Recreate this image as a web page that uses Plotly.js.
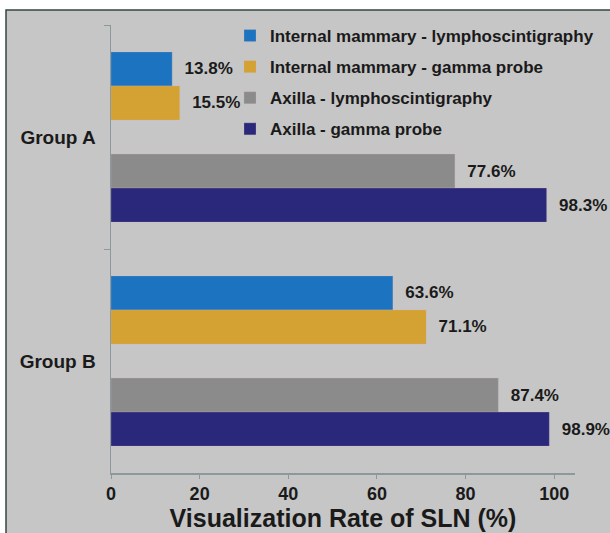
<!DOCTYPE html>
<html>
<head>
<meta charset="utf-8">
<script src="https://cdn.plot.ly/plotly-3.0.1.min.js"></script>
<style>html,body{margin:0;padding:0;background:#fff;}</style>
</head>
<body>
<div id="chart" style="width:610px;height:533px;"></div>
<script>
const groups = ['Group A', 'Group B'];
const seriesNames = [
  'Internal mammary - lymphoscintigraphy',
  'Internal mammary - gamma probe',
  'Axilla - lymphoscintigraphy',
  'Axilla - gamma probe'
];
const imLympho = [13.8, 63.6];
const imGamma = [15.5, 71.1];
const axLympho = [77.6, 87.4];
const axGamma = [98.3, 98.9];
const colors = ['#1C74C0', '#D3A232', '#8B8B8B', '#29287A'];
const xTicks = [0, 20, 40, 60, 80, 100];

const FONT = 'Liberation Sans, Arial, sans-serif';
const TXT = '#1a1a1a';

function barTrace(name, vals, color, group) {
  return {
    type: 'bar', orientation: 'h', name: name,
    y: groups, x: vals,
    marker: {color: color, line: {color: 'rgba(220,180,190,0.5)', width: 0.5}},
    text: vals.map(v => '\u00a0\u00a0' + v.toFixed(1) + '%'),
    textposition: 'outside', cliponaxis: false,
    textfont: {family: FONT, size: 17, color: TXT, weight: 'bold'},
    legendgroup: group, hoverinfo: 'x+name'
  };
}

const data = [
  barTrace(seriesNames[0], imLympho, colors[0], 'g1'),
  barTrace(seriesNames[1], imGamma, colors[1], 'g2'),
  {type: 'bar', orientation: 'h', y: groups, x: [null, null], showlegend: false, hoverinfo: 'skip', name: 'spacer'},
  barTrace(seriesNames[2], axLympho, colors[2], 'g3'),
  barTrace(seriesNames[3], axGamma, colors[3], 'g4')
];

const L = 111, R = 35, T = 25, B = 60;
const W = 610, H = 533;
const pw = W - L - R, ph = H - T - B;
const px = v => (v - L) / pw;
const py = v => (H - B - v) / ph;

const layout = {
  width: W, height: H,
  margin: {l: L, r: R, t: T, b: B, pad: 0, autoexpand: false},
  paper_bgcolor: '#ffffff',
  plot_bgcolor: 'rgba(0,0,0,0)',
  barmode: 'group', bargap: 0.24, bargroupgap: 0,
  font: {family: FONT, color: TXT},
  showlegend: true,
  legend: {
    x: px(230), y: py(18), xanchor: 'left', yanchor: 'top',
    bgcolor: 'rgba(0,0,0,0)',
    font: {family: FONT, size: 17, color: TXT, weight: 'bold'},
    traceorder: 'grouped', tracegroupgap: 6
  },
  xaxis: {
    automargin: false,
    range: [0, 104.7], tickvals: xTicks, ticktext: xTicks.map(String),
    showgrid: false, zeroline: false,
    showline: true, linecolor: '#8a9a9a', linewidth: 1.5,
    ticks: 'outside', ticklen: 4, tickcolor: '#8a9a9a',
    tickfont: {family: FONT, size: 18, color: TXT, weight: 'bold'},
    title: {text: 'Visualization Rate of SLN (%)', font: {family: FONT, size: 25, color: TXT, weight: 'bold'}, standoff: 0}
  },
  yaxis: {
    automargin: false,
    type: 'category', autorange: false, range: [1.5, -0.5],
    showgrid: false, zeroline: false,
    showline: true, linecolor: '#8a9a9a', linewidth: 1.5,
    ticks: 'outside', tickson: 'boundaries', ticklen: 6, tickcolor: '#8a9a9a',
    tickfont: {family: FONT, size: 19, color: TXT, weight: 'bold'},
    ticklabelstandoff: 10
  },
  shapes: [{
    type: 'rect', xref: 'paper', yref: 'paper', layer: 'below',
    x0: px(6), x1: px(615), y0: py(540), y1: py(10),
    fillcolor: '#C6C6C6', line: {color: '#34453f', width: 1.5}
  }]
};

Plotly.newPlot('chart', data, layout, {displayModeBar: false, staticPlot: true});
</script>
</body>
</html>
